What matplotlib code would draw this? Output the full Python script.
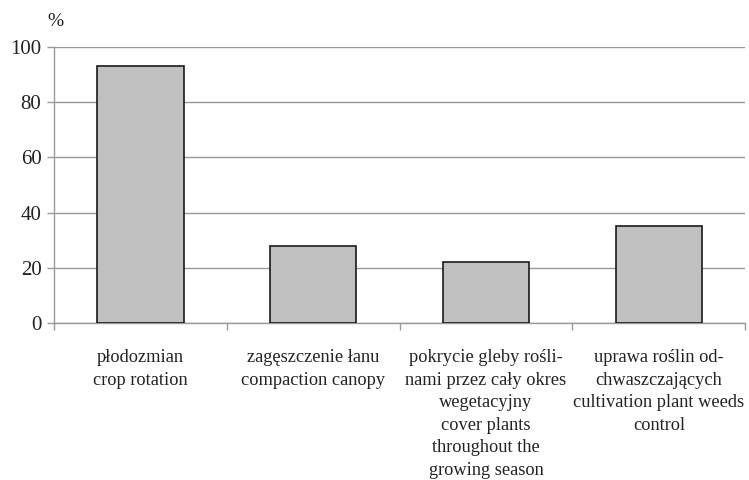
import numpy as np
import matplotlib.pyplot as plt

# udział gospodarstw stosujących metody niechemiczne
categories = [
    "płodozmian\ncrop rotation",
    "zagęszczenie łanu\ncompaction canopy",
    "pokrycie gleby rośli-\nnami przez cały okres\nwegetacyjny\ncover plants\nthroughout the\ngrowing season",
    "uprawa roślin od-\nchwaszczających\ncultivation plant weeds\ncontrol",
]
values = [93, 28, 22, 35]
y_ticks = [0, 20, 40, 60, 80, 100]

plt.rcParams['font.family'] = ['Liberation Serif', 'DejaVu Serif']

fig = plt.figure(figsize=(7.49, 4.8), dpi=100)
ax = fig.add_axes([0.072, 0.327, 0.923, 0.575])

x = np.arange(len(values))
ax.bar(x, values, width=0.5, color='#c0c0c0', edgecolor='#1a1a1a', linewidth=1.2, zorder=3)

ax.set_xlim(-0.5, len(values) - 0.5)
ax.set_ylim(0, 100)
ax.set_yticks(y_ticks)
ax.set_yticklabels([str(v) for v in y_ticks], fontsize=15)
ax.yaxis.grid(True, color='#999999', linewidth=1.0, zorder=0)

# etykiety kategorii pod osią, znaczniki między słupkami
ax.set_xticks(x)
ax.set_xticklabels(categories, fontsize=13.2, linespacing=1.42, ha='center', va='top')
ax.tick_params(axis='x', length=0, pad=19, colors='#222222')
ax.set_xticks(np.arange(-0.5, len(values)), minor=True)
ax.tick_params(axis='x', which='minor', length=5, color='#999999', width=1.0)
ax.tick_params(axis='y', length=5, color='#999999', width=1.0, labelcolor='#222222', pad=4)

for side in ['top', 'right']:
    ax.spines[side].set_visible(False)
for side in ['left', 'bottom']:
    ax.spines[side].set_color('#999999')
    ax.spines[side].set_linewidth(1.0)

fig.text(0.063, 0.955, "%", fontsize=14, ha='left', va='center', color='#222222')

fig.savefig("out.png", dpi=100)
